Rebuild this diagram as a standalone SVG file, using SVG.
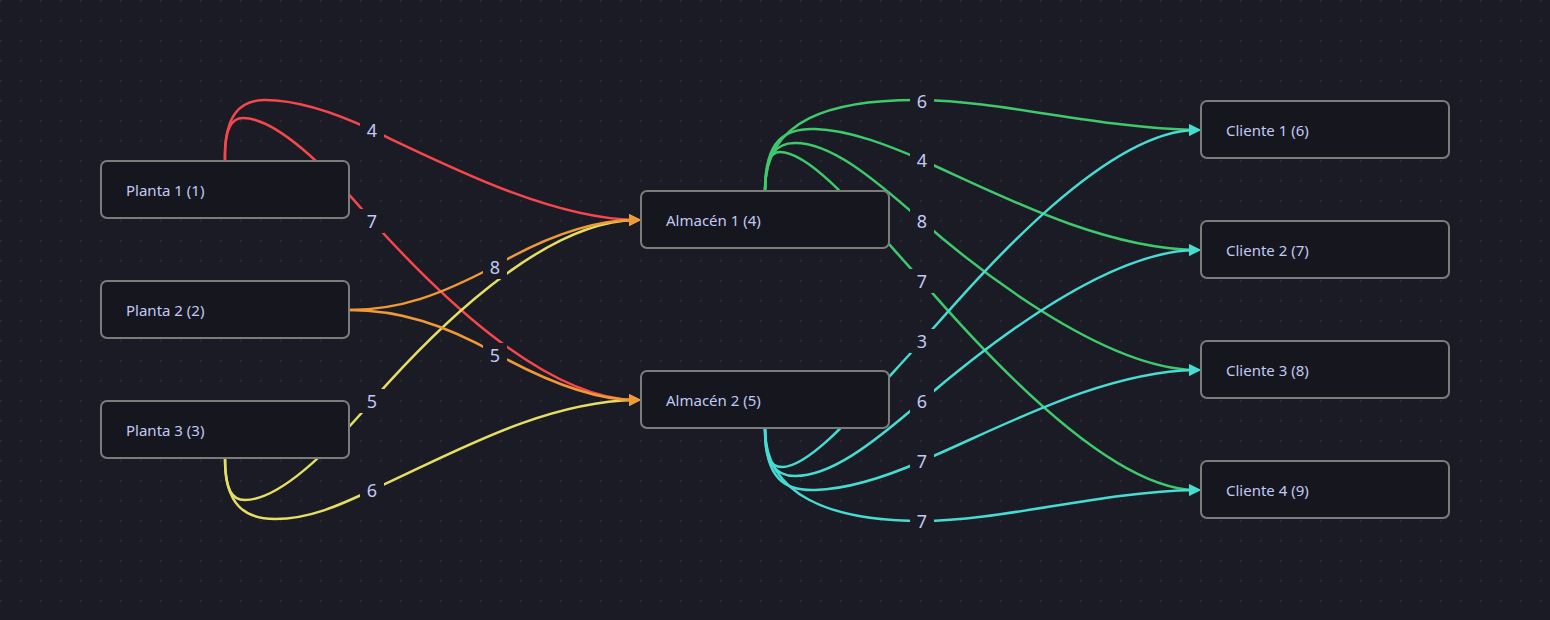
<svg xmlns="http://www.w3.org/2000/svg" width="1550" height="620" viewBox="0 0 1550 620">
<style>
.bg{fill:#1b1b26}
.node rect{fill:#16161e;stroke:#7c7c7c;stroke-width:2}
.node text{font-family:"Noto Sans","Open Sans",sans-serif;font-size:15px;fill:#c0caf5}
.e{fill:none;stroke-width:2.5}
.red{stroke:#f5474c}
.org{stroke:#ef9a34}
.yel{stroke:#e5de62}
.grn{stroke:#3ec96b}
.cyn{stroke:#46dcd2}
.lbl rect{fill:#1b1b26}
.lbl text{font-family:"Noto Sans","Open Sans",sans-serif;font-size:18px;fill:#c0caf5;text-anchor:middle}
</style>
<defs>
<pattern id="grid" width="20" height="20" patternUnits="userSpaceOnUse">
<rect x="0" y="0" width="1.5" height="1.5" fill="#30303c"/>
</pattern>
<marker id="aOrg" viewBox="0 0 12 12" markerWidth="12" markerHeight="12" refX="6" refY="6" orient="auto" markerUnits="userSpaceOnUse"><path d="M0,0 L12,6 L0,12 z" fill="#ef9a34"/></marker>
<marker id="aRed" viewBox="0 0 12 12" markerWidth="12" markerHeight="12" refX="6" refY="6" orient="auto" markerUnits="userSpaceOnUse"><path d="M0,0 L12,6 L0,12 z" fill="#f5474c"/></marker>
<marker id="aYel" viewBox="0 0 12 12" markerWidth="12" markerHeight="12" refX="6" refY="6" orient="auto" markerUnits="userSpaceOnUse"><path d="M0,0 L12,6 L0,12 z" fill="#e5de62"/></marker>
<marker id="aGrn" viewBox="0 0 12 12" markerWidth="12" markerHeight="12" refX="6" refY="6" orient="auto" markerUnits="userSpaceOnUse"><path d="M0,0 L12,6 L0,12 z" fill="#3ec96b"/></marker>
<marker id="aCyn" viewBox="0 0 12 12" markerWidth="12" markerHeight="12" refX="6" refY="6" orient="auto" markerUnits="userSpaceOnUse"><path d="M0,0 L12,6 L0,12 z" fill="#46dcd2"/></marker>
</defs>
<rect class="bg" x="0" y="0" width="1550" height="620"/>
<rect x="0" y="0" width="1550" height="620" fill="url(#grid)"/>

<g id="connectors">
<path class="e red" marker-end="url(#aRed)" d="M225,161 C224,115 240,100 265,100 C300,100 340,115 372,130 C450,167 550,218 635,220"/>
<path class="e red" marker-end="url(#aRed)" d="M225,161 C224,128 232,118 243,118 C275,118 325,165 372,221 C430,285 540,398 635,400"/>
<path class="e yel" marker-end="url(#aYel)" d="M225,459 C225,490 232,500 245,500 C280,500 330,450 372,401 C430,335 540,222 635,220"/>
<path class="e yel" marker-end="url(#aYel)" d="M225,459 C225,505 245,519 275,519 C310,519 340,505 372,490 C450,455 540,402 635,400"/>
<path class="e org" marker-end="url(#aOrg)" d="M349,310 C400,310 440,295 495,266 C540,240 590,220 635,220"/>
<path class="e org" marker-end="url(#aOrg)" d="M349,310 C400,310 445,325 495,353 C540,378 590,400 635,400"/>

<path class="e grn" marker-end="url(#aGrn)" d="M765,190 C765,120 830,99 922,100 C1000,101 1100,128 1195,130"/>
<path class="e grn" marker-end="url(#aGrn)" d="M765,190 C765,140 785,128 815,129 C850,130 890,146 922,160 C1000,195 1100,248 1195,250"/>
<path class="e grn" marker-end="url(#aGrn)" d="M765,190 C766,155 775,143 795,143 C830,143 870,175 922,221 C970,263 1100,368 1195,370"/>
<path class="e grn" marker-end="url(#aGrn)" d="M765,190 C766,162 770,152 780,152 C812,152 865,218 922,281 C960,325 1100,488 1195,490"/>

<path class="e cyn" marker-end="url(#aCyn)" d="M765,429 C765,457 770,467 782,467 C812,467 865,402 922,341 C970,287 1100,132 1195,130"/>
<path class="e cyn" marker-end="url(#aCyn)" d="M765,429 C766,464 775,476 795,476 C830,476 870,446 922,401 C970,360 1100,252 1195,250"/>
<path class="e cyn" marker-end="url(#aCyn)" d="M765,429 C765,479 785,491 815,490 C850,489 890,475 922,461 C1000,428 1100,372 1195,370"/>
<path class="e cyn" marker-end="url(#aCyn)" d="M765,429 C765,495 830,521 922,521 C1000,521 1100,492 1195,490"/>

<g class="lbl">
<rect x="360" y="118" width="24" height="24"/><text x="372" y="136.5">4</text>
<rect x="360" y="209" width="24" height="24"/><text x="372" y="227.5">7</text>
<rect x="483" y="255" width="24" height="24"/><text x="495" y="273.5">8</text>
<rect x="483" y="343" width="24" height="24"/><text x="495" y="361.5">5</text>
<rect x="360" y="389" width="24" height="24"/><text x="372" y="407.5">5</text>
<rect x="360" y="478" width="24" height="24"/><text x="372" y="496.5">6</text>
<rect x="910" y="89" width="24" height="24"/><text x="922" y="107.5">6</text>
<rect x="910" y="148" width="24" height="24"/><text x="922" y="166.5">4</text>
<rect x="910" y="209" width="24" height="24"/><text x="922" y="227.5">8</text>
<rect x="910" y="269" width="24" height="24"/><text x="922" y="287.5">7</text>
<rect x="910" y="329" width="24" height="24"/><text x="922" y="347.5">3</text>
<rect x="910" y="389" width="24" height="24"/><text x="922" y="407.5">6</text>
<rect x="910" y="449" width="24" height="24"/><text x="922" y="467.5">7</text>
<rect x="910" y="509" width="24" height="24"/><text x="922" y="527.5">7</text>
</g>
</g>

<g id="planta1" class="node"><rect x="101" y="161" width="248" height="57" rx="6"/><text x="126" y="195.5">Planta 1 (1)</text></g>
<g id="planta2" class="node"><rect x="101" y="281" width="248" height="57" rx="6"/><text x="126" y="315.5">Planta 2 (2)</text></g>
<g id="planta3" class="node"><rect x="101" y="401" width="248" height="57" rx="6"/><text x="126" y="435.5">Planta 3 (3)</text></g>
<g id="almacen1" class="node"><rect x="641" y="191" width="248" height="57" rx="6"/><text x="666" y="225.5">Almacén 1 (4)</text></g>
<g id="almacen2" class="node"><rect x="641" y="371" width="248" height="57" rx="6"/><text x="666" y="405.5">Almacén 2 (5)</text></g>
<g id="cliente1" class="node"><rect x="1201" y="101" width="248" height="57" rx="6"/><text x="1226" y="135.5">Cliente 1 (6)</text></g>
<g id="cliente2" class="node"><rect x="1201" y="221" width="248" height="57" rx="6"/><text x="1226" y="255.5">Cliente 2 (7)</text></g>
<g id="cliente3" class="node"><rect x="1201" y="341" width="248" height="57" rx="6"/><text x="1226" y="375.5">Cliente 3 (8)</text></g>
<g id="cliente4" class="node"><rect x="1201" y="461" width="248" height="57" rx="6"/><text x="1226" y="495.5">Cliente 4 (9)</text></g>
</svg>
